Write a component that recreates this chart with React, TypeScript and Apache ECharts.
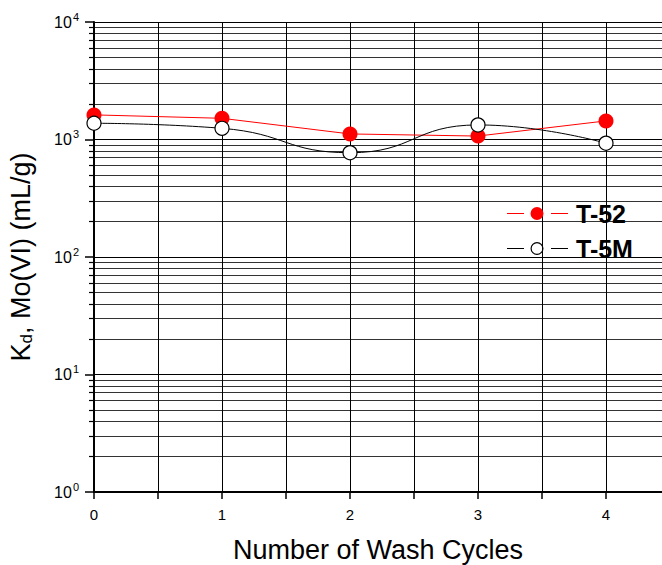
import React, { useEffect, useRef } from "react";
import * as echarts from "echarts";

const washCycles = [0, 1, 2, 3, 4];
const t52 = [1620, 1515, 1115, 1070, 1440];
const t5m = [1375, 1245, 772, 1330, 930];
const seriesNames = ["T-52", "T-5M"];

const FONT = "'Liberation Sans', Arial, Helvetica, sans-serif";
const LINE_PARTS = "M0 6 L17 6 L17 7 L0 7 Z M44 6 L61 6 L61 7 L44 7 Z ";
const ICON_FILLED =
  "path://" + LINE_PARTS + "M36.5 6.5 A6.5 6.5 0 1 1 23.5 6.5 A6.5 6.5 0 1 1 36.5 6.5 Z";
const ICON_OPEN =
  "path://" +
  LINE_PARTS +
  "M36.5 6.5 A6.5 6.5 0 1 1 23.5 6.5 A6.5 6.5 0 1 1 36.5 6.5 Z " +
  "M35.3 6.5 A5.3 5.3 0 1 0 24.7 6.5 A5.3 5.3 0 1 0 35.3 6.5 Z";

export default function App() {
  const ref = useRef<HTMLDivElement>(null);
  useEffect(() => {
    if (!ref.current) return;
    const chart = echarts.init(ref.current, undefined, { renderer: "svg" });
    chart.setOption({
      animation: false,
      backgroundColor: "#fff",
      grid: { left: 94, top: 22, right: 0, bottom: 73, containLabel: false, outerBoundsMode: "none" },
      legend: {
        orient: "vertical",
        left: 502,
        top: 196,
        itemWidth: 61,
        itemHeight: 13,
        itemGap: 10,
        textStyle: { fontFamily: FONT, fontSize: 25, lineHeight: 25, fontWeight: "bold", color: "#000", padding: [0, 0, 0, 3] },
        data: [
          {
            name: seriesNames[0],
            icon: ICON_FILLED,
            itemStyle: { color: "#ff0000", borderWidth: 0, borderColor: "transparent" },
          },
          {
            name: seriesNames[1],
            icon: ICON_OPEN,
            itemStyle: { color: "#000000", borderWidth: 0, borderColor: "transparent" },
          },
        ],
      },
      xAxis: {
        type: "value",
        min: 0,
        max: 4.4375,
        interval: 0.5,
        name: "Number of Wash Cycles",
        nameLocation: "middle",
        nameGap: 44,
        nameTextStyle: { fontFamily: FONT, fontSize: 27, color: "#000" },
        axisLine: { show: true, onZero: false, lineStyle: { color: "#000", width: 2 } },
        axisTick: { show: true, length: 7, lineStyle: { color: "#000", width: 1.5 } },
        axisLabel: {
          fontFamily: FONT,
          fontSize: 15,
          color: "#000",
          margin: 15,
          showMaxLabel: false,
          formatter: (v: number) => (Number.isInteger(v) ? String(v) : ""),
        },
        splitLine: { show: true, lineStyle: { color: "#000", width: 1 } },
      },
      yAxis: {
        type: "log",
        logBase: 10,
        min: 1,
        max: 10000,
        name: "{a|K}{s|d}{a|, Mo(VI) (mL/g)}",
        nameLocation: "middle",
        nameGap: 59,
        nameRotate: 90,
        nameTextStyle: {
          rich: {
            a: { fontFamily: FONT, fontSize: 27, color: "#000" },
            s: { fontFamily: FONT, fontSize: 17, color: "#000", verticalAlign: "bottom", padding: [12, 0, 0, 0] },
          },
        },
        axisLine: { show: true, lineStyle: { color: "#000", width: 2 } },
        axisTick: { show: true, length: 9, lineStyle: { color: "#000", width: 1.5 } },
        minorTick: { show: true, splitNumber: 9, length: 5, lineStyle: { color: "#000", width: 1.2 } },
        axisLabel: {
          margin: 15,
          formatter: (v: number) => {
            const e = Math.round(Math.log10(v));
            return "{b|10}{s|" + e + "}";
          },
          rich: {
            b: { fontFamily: FONT, fontSize: 16, color: "#000" },
            s: { fontFamily: FONT, fontSize: 11, color: "#000", verticalAlign: "top", padding: [0, 0, 11, 1] },
          },
        },
        splitLine: { show: true, lineStyle: { color: "#000", width: 1.2 } },
        minorSplitLine: { show: true, lineStyle: { color: "#333", width: 1 } },
      },
      series: [
        {
          name: seriesNames[0],
          type: "line",
          data: washCycles.map((x, i) => [x, t52[i]]),
          symbol: "circle",
          symbolSize: 15,
          itemStyle: { color: "#ff0000", borderColor: "#ff0000", borderWidth: 0 },
          lineStyle: { color: "#ff0000", width: 1 },
          z: 3,
        },
        {
          name: seriesNames[1],
          type: "line",
          data: washCycles.map((x, i) => [x, t5m[i]]),
          symbol: "circle",
          symbolSize: 14,
          smooth: 0.5,
          itemStyle: { color: "#ffffff", borderColor: "#000", borderWidth: 1.2 },
          lineStyle: { color: "#000", width: 1 },
          z: 4,
        },
      ],
    });
    return () => chart.dispose();
  }, []);
  return <div ref={ref} style={{ width: 662, height: 565, position: "absolute", left: 0, top: 0 }} />;
}
